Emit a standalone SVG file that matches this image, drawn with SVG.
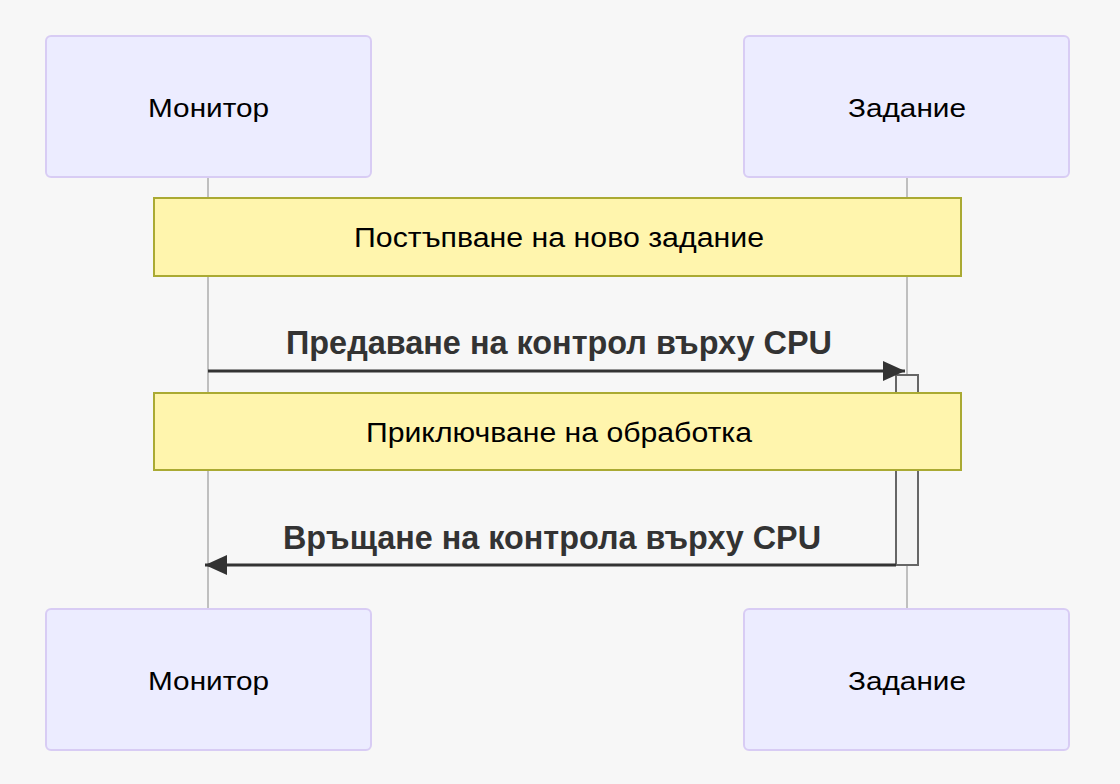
<svg xmlns="http://www.w3.org/2000/svg" width="1120" height="784" viewBox="0 0 1120 784">
<style>
.actor{fill:#ECECFF;stroke:#D8CCF4;stroke-width:2}
.atext{font-family:"Liberation Sans",Arial,sans-serif;font-size:26px;fill:#000;text-anchor:middle}
.note{fill:#FFF5AD;stroke:#AAAA33;stroke-width:2}
.ntext{font-family:"Liberation Sans",Arial,sans-serif;font-size:27px;fill:#000;text-anchor:middle}
.mtext{font-family:"Liberation Sans",Arial,sans-serif;font-size:34px;font-weight:bold;fill:#333;text-anchor:middle}
.life{stroke:#999;stroke-width:1.2}
.msg{stroke:#333;stroke-width:3;fill:none}
</style>
<defs>
<marker id="ahs" viewBox="0 0 24 24" refX="22" refY="10" markerWidth="24" markerHeight="24" orient="auto" markerUnits="userSpaceOnUse">
<path d="M0,0 L22,10 L0,20 z" fill="#333"/>
</marker>
</defs>
<rect width="1120" height="784" fill="#F7F7F7"/>
<g id="lifelines">
<line class="life" x1="208" y1="177" x2="208" y2="609"/>
<line class="life" x1="907" y1="177" x2="907" y2="609"/>
</g>
<g id="actor-monitor-top">
<rect class="actor" x="46" y="36" width="325" height="141" rx="5"/>
<text class="atext" x="208.5" y="117" textLength="121" lengthAdjust="spacingAndGlyphs">Монитор</text>
</g>
<g id="actor-zadanie-top">
<rect class="actor" x="744" y="36" width="325" height="141" rx="5"/>
<text class="atext" x="907" y="117" textLength="118" lengthAdjust="spacingAndGlyphs">Задание</text>
</g>
<g id="note1">
<rect class="note" x="154" y="198" width="807" height="78"/>
<text class="ntext" x="559" y="247" textLength="410" lengthAdjust="spacingAndGlyphs">Постъпване на ново задание</text>
</g>
<g id="activation">
<rect x="896" y="375" width="22" height="190" fill="#F4F4F4" stroke="#666" stroke-width="2"/>
</g>
<g id="note2">
<rect class="note" x="154" y="393" width="807" height="77"/>
<text class="ntext" x="559" y="442" textLength="386" lengthAdjust="spacingAndGlyphs">Приключване на обработка</text>
</g>
<g id="connectors">
<line class="msg" x1="208" y1="371" x2="905" y2="371" marker-end="url(#ahs)"/>
<text class="mtext" x="559" y="354" textLength="546" lengthAdjust="spacingAndGlyphs">Предаване на контрол върху CPU</text>
<line class="msg" x1="896" y1="565" x2="205" y2="565" marker-end="url(#ahs)"/>
<text class="mtext" x="552" y="549" textLength="538" lengthAdjust="spacingAndGlyphs">Връщане на контрола върху CPU</text>
</g>
<g id="actor-monitor-bottom">
<rect class="actor" x="46" y="609" width="325" height="141" rx="5"/>
<text class="atext" x="208.5" y="690" textLength="121" lengthAdjust="spacingAndGlyphs">Монитор</text>
</g>
<g id="actor-zadanie-bottom">
<rect class="actor" x="744" y="609" width="325" height="141" rx="5"/>
<text class="atext" x="907" y="690" textLength="118" lengthAdjust="spacingAndGlyphs">Задание</text>
</g>
</svg>
